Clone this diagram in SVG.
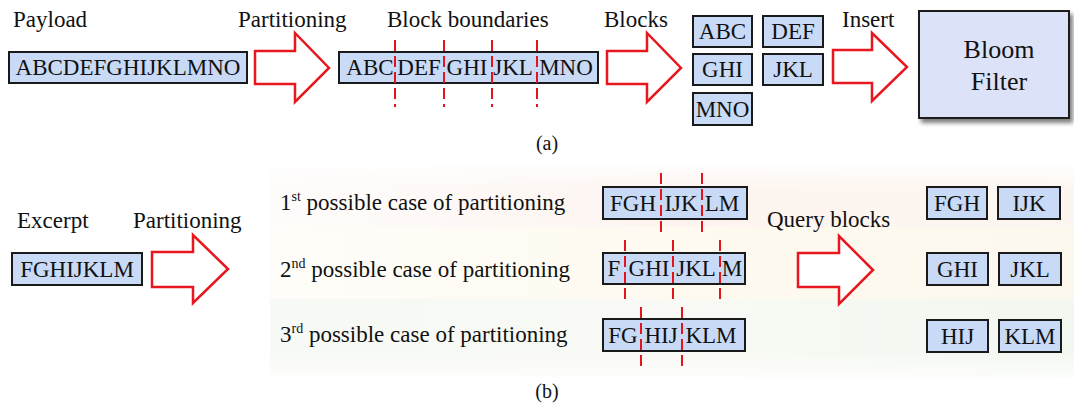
<svg xmlns="http://www.w3.org/2000/svg" width="1074" height="409" viewBox="0 0 1074 409">
<defs>
<style>
text{font-family:'Liberation Serif','DejaVu Serif',serif;fill:#111;}
.lbl{font-size:23px;}
.bx{font-size:23px;text-anchor:middle;}
.cap{font-size:20px;text-anchor:middle;}
.box{fill:#c9daf6;stroke:#1a1a1a;stroke-width:2;}
.arr{fill:#fff;stroke:#e8161e;stroke-width:2.5;stroke-linejoin:miter;}
.dash{stroke:#e3151c;stroke-width:2;stroke-dasharray:11 5;fill:none;}
.sup{font-size:14px;}
</style>
<linearGradient id="band1" x1="0" y1="0" x2="1" y2="0">
<stop offset="0" stop-color="#fdf7f4" stop-opacity="0.4"/>
<stop offset="0.5" stop-color="#fdf4ef"/>
<stop offset="1" stop-color="#fdf6f0"/>
</linearGradient>
<linearGradient id="band2" x1="0" y1="0" x2="1" y2="0">
<stop offset="0" stop-color="#fefbf2" stop-opacity="0.5"/>
<stop offset="0.5" stop-color="#fefaf0"/>
<stop offset="1" stop-color="#fdf8ee"/>
</linearGradient>
<linearGradient id="band3" x1="0" y1="0" x2="1" y2="0">
<stop offset="0" stop-color="#f3f7f1" stop-opacity="0.7"/>
<stop offset="0.5" stop-color="#f9faf5"/>
<stop offset="1" stop-color="#f2f7f0"/>
</linearGradient>
<linearGradient id="fadeV" x1="0" y1="0" x2="0" y2="1">
<stop offset="0" stop-color="#fff" stop-opacity="0.8"/>
<stop offset="0.12" stop-color="#fff" stop-opacity="0"/>
<stop offset="0.88" stop-color="#fff" stop-opacity="0"/>
<stop offset="1" stop-color="#fff" stop-opacity="0.8"/>
</linearGradient>
<filter id="shadow" x="-10%" y="-10%" width="130%" height="130%">
<feGaussianBlur in="SourceAlpha" stdDeviation="2"/>
<feOffset dx="3" dy="4" result="b"/>
<feComponentTransfer><feFuncA type="linear" slope="0.5"/></feComponentTransfer>
<feMerge><feMergeNode/><feMergeNode in="SourceGraphic"/></feMerge>
</filter>
</defs>
<rect width="1074" height="409" fill="#fff"/>

<g id="bg">
<rect x="270" y="165" width="804" height="62" fill="url(#band1)"/>
<rect x="270" y="227" width="804" height="72" fill="url(#band2)"/>
<rect x="270" y="299" width="804" height="79" fill="url(#band3)"/>
<rect x="270" y="165" width="804" height="213" fill="url(#fadeV)"/>
</g>

<g font-family="'Liberation Serif','DejaVu Serif',serif">
<g id="labels-a">
<text class="lbl" x="13" y="27">Payload</text>
<text class="lbl" x="238" y="27">Partitioning</text>
<text class="lbl" x="387" y="27">Block boundaries</text>
<text class="lbl" x="604" y="27">Blocks</text>
<text class="lbl" x="842" y="27">Insert</text>
<text class="cap" x="547" y="150">(a)</text>
</g>

<g id="payload">
<rect class="box" x="9" y="52" width="238" height="31"/>
<text class="bx" x="128" y="75">ABCDEFGHIJKLMNO</text>
</g>

<g id="partitioned">
<rect class="box" x="339" y="52" width="259" height="31"/>
<text class="bx" x="370" y="75">ABC</text>
<text class="bx" x="419" y="75">DEF</text>
<text class="bx" x="467" y="75">GHI</text>
<text class="bx" x="513" y="75">JKL</text>
<text class="bx" x="566" y="75">MNO</text>
</g>

<g id="blocks-a">
<g id="blk-ABC"><rect class="box" x="693" y="16" width="59" height="31"/><text class="bx" x="722.5" y="39">ABC</text></g>
<g id="blk-DEF"><rect class="box" x="763" y="16" width="60" height="31"/><text class="bx" x="793" y="39">DEF</text></g>
<g id="blk-GHI"><rect class="box" x="693" y="54" width="59" height="31"/><text class="bx" x="722.5" y="77">GHI</text></g>
<g id="blk-JKL"><rect class="box" x="763" y="54" width="60" height="31"/><text class="bx" x="793" y="77">JKL</text></g>
<g id="blk-MNO"><rect class="box" x="693" y="93" width="59" height="32"/><text class="bx" x="722.5" y="117">MNO</text></g>
</g>

<g id="bloom">
<rect x="919" y="11" width="150" height="107" fill="#dce2f8" stroke="#1a1a1a" stroke-width="2" filter="url(#shadow)"/>
<text x="999" y="58" font-size="26" text-anchor="middle">Bloom</text>
<text x="999" y="90" font-size="26" text-anchor="middle">Filter</text>
</g>

<g id="labels-b">
<text class="lbl" x="17" y="228">Excerpt</text>
<text class="lbl" x="133" y="228">Partitioning</text>
<text class="lbl" x="767" y="227">Query blocks</text>
<text class="lbl" x="280" y="210">1<tspan class="sup" dy="-9">st</tspan><tspan dy="9"> possible case of partitioning</tspan></text>
<text class="lbl" x="280" y="277">2<tspan class="sup" dy="-9">nd</tspan><tspan dy="9"> possible case of partitioning</tspan></text>
<text class="lbl" x="280" y="342">3<tspan class="sup" dy="-9">rd</tspan><tspan dy="9"> possible case of partitioning</tspan></text>
<text class="cap" x="547" y="398">(b)</text>
</g>

<g id="excerpt">
<rect class="box" x="12" y="253" width="130" height="32"/>
<text class="bx" x="77" y="277">FGHIJKLM</text>
</g>

<g id="case1">
<rect class="box" x="603" y="187" width="144" height="32"/>
<text class="bx" x="633" y="211">FGH</text>
<text class="bx" x="681" y="211">IJK</text>
<text class="bx" x="722" y="211">LM</text>
</g>
<g id="case2">
<rect class="box" x="603" y="253" width="142" height="31"/>
<text class="bx" x="614" y="276">F</text>
<text class="bx" x="649" y="276">GHI</text>
<text class="bx" x="696" y="276">JKL</text>
<text class="bx" x="732" y="276">M</text>
</g>
<g id="case3">
<rect class="box" x="603" y="319" width="142" height="32"/>
<text class="bx" x="623" y="343">FG</text>
<text class="bx" x="661" y="343">HIJ</text>
<text class="bx" x="711" y="343">KLM</text>
</g>

<g id="blocks-b">
<g id="q-FGH"><rect class="box" x="927" y="187" width="60" height="32"/><text class="bx" x="957" y="211">FGH</text></g>
<g id="q-IJK"><rect class="box" x="998" y="187" width="62" height="32"/><text class="bx" x="1029" y="211">IJK</text></g>
<g id="q-GHI"><rect class="box" x="927" y="253" width="61" height="32"/><text class="bx" x="957.5" y="277">GHI</text></g>
<g id="q-JKL"><rect class="box" x="999" y="253" width="62" height="32"/><text class="bx" x="1030" y="277">JKL</text></g>
<g id="q-HIJ"><rect class="box" x="927" y="320" width="61" height="32"/><text class="bx" x="957.5" y="344">HIJ</text></g>
<g id="q-KLM"><rect class="box" x="999" y="320" width="62" height="32"/><text class="bx" x="1030" y="344">KLM</text></g>
</g>
</g>

<g id="connectors">
<polygon class="arr" points="255,51 295,51 295,33 329,68 295,102 295,84 255,84"/>
<polygon class="arr" points="607,51 647,51 647,33 681,68 647,102 647,84 607,84"/>
<polygon class="arr" points="833,50 872,50 872,33 907,67 872,101 872,83 833,83"/>
<polygon class="arr" points="152,252 193,252 193,235 228,269 193,303 193,287 152,287"/>
<polygon class="arr" points="798,253 839,253 839,236 873,270 839,304 839,287 798,287"/>
</g>

<g id="boundaries">
<line class="dash" x1="395" y1="40" x2="395" y2="107"/>
<line class="dash" x1="444" y1="40" x2="444" y2="107"/>
<line class="dash" x1="492" y1="40" x2="492" y2="107"/>
<line class="dash" x1="537" y1="40" x2="537" y2="107"/>
<line class="dash" x1="661" y1="173" x2="661" y2="237"/>
<line class="dash" x1="702" y1="173" x2="702" y2="237"/>
<line class="dash" x1="625" y1="240" x2="625" y2="302"/>
<line class="dash" x1="673" y1="240" x2="673" y2="302"/>
<line class="dash" x1="720" y1="240" x2="720" y2="302"/>
<line class="dash" x1="641" y1="307" x2="641" y2="368"/>
<line class="dash" x1="682" y1="307" x2="682" y2="368"/>
</g>
</svg>
